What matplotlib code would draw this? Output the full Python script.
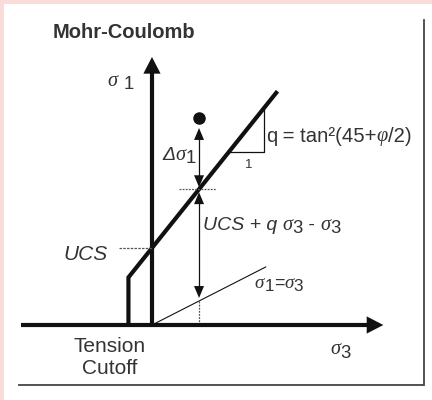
import matplotlib
matplotlib.use('Agg')
import matplotlib.pyplot as plt
from matplotlib.patches import FancyArrowPatch, Rectangle
from matplotlib.transforms import offset_copy

# diagram values (sigma3, sigma1 in arbitrary stress units)
UCS = 77
q = 2.45
T = -12                 # tension cutoff
s3_fail_end = 64        # end of failure line
s3_axis = (-67, 118)    # sigma3 axis extent
s1_axis_top = 268
point = (24, 207)       # stress state above the envelope
s3_equal_end = 58       # end of sigma1 = sigma3 line
tri_s3 = (39, 57)       # slope triangle

INK = '#111111'
TXT = '#333333'
SANS = 'Liberation Sans'
SERIF = 'Liberation Serif'

fig = plt.figure(figsize=(4.32, 4.0), dpi=100, facecolor='#f9dcd9')
fig.patches.append(Rectangle((4 / 432, 0), 428 / 432, 396 / 400, transform=fig.transFigure,
                             facecolor='white', edgecolor='none', zorder=-5))
ax = fig.add_axes([0, 0, 1, 1])
ax.set_xlim(-77.5, 142.8)
ax.set_ylim(-75, 325)
ax.axis('off')
rend = fig.canvas.get_renderer()


def head(tip, frm, size):
    w, l = size
    ax.add_patch(FancyArrowPatch(frm, tip, arrowstyle=f'-|>,head_length={l},head_width={w}',
                                 mutation_scale=10, lw=0, color=INK, shrinkA=0, shrinkB=0))


def rich(x, y, parts, size=14):
    # parts: (text, family, style, dy in points, size factor)
    dx = 0
    for s, fam, sty, dy, f in parts:
        t = ax.text(x, y, s, transform=offset_copy(ax.transData, fig, dx, dy, units='points'),
                    va='center', ha='left', family=fam, style=sty, fontsize=size * f, color=TXT)
        dx += t.get_window_extent(rend).width * 72 / fig.dpi


def sig(sub, gap=''):
    return [('σ' + gap, SERIF, 'italic', 0, 1.05), (sub, SANS, 'normal', -2.5, 0.95)]


# frame (right and bottom)
ax.plot([-67.8, 138.7, 138.7], [-60, -60, 305], color='#444444', lw=1.3, solid_joinstyle='miter')

# axes with arrow heads
ax.plot([s3_axis[0], s3_axis[1] - 4], [0, 0], color=INK, lw=3, solid_capstyle='butt')
head((s3_axis[1], 0), (s3_axis[1] - 10, 0), (0.62, 1.2))
ax.plot([0, 0], [0, s1_axis_top - 8], color=INK, lw=3, solid_capstyle='butt')
head((0, s1_axis_top), (0, s1_axis_top - 20), (0.62, 1.2))

# tension cutoff + failure envelope
s1_T = UCS + q * T
ax.plot([T, T, s3_fail_end], [0, s1_T, UCS + q * s3_fail_end], color=INK, lw=3,
        solid_joinstyle='miter', solid_capstyle='butt')

# sigma1 = sigma3 line
ax.plot([0, s3_equal_end], [0, s3_equal_end], color=INK, lw=0.8)

# UCS dotted
ax.plot([-17, 0], [UCS, UCS], color='#555555', lw=0.9, ls=(0, (2, 1)))

# stress point and arrows
ps3, ps1 = point
s1_env = UCS + q * ps3
ax.plot([ps3], [ps1], 'o', color=INK, ms=8)
top_a, bot_a = ps1 - 10, s1_env + 2
ax.plot([ps3, ps3], [bot_a + 6, top_a - 6], color=INK, lw=0.9)
head((ps3, top_a), (ps3, top_a - 10), (0.36, 0.86))
head((ps3, bot_a), (ps3, bot_a + 10), (0.36, 0.86))
top_b, bot_b = s1_env - 3, ps3 + 3
ax.plot([ps3, ps3], [bot_b + 6, top_b - 6], color=INK, lw=0.9)
head((ps3, top_b), (ps3, top_b - 10), (0.36, 0.86))
head((ps3, bot_b), (ps3, bot_b + 10), (0.36, 0.86))
ax.plot([ps3, ps3], [ps3, 3], color='#555555', lw=0.9, ls=(0, (1.5, 1)))
ax.plot([ps3 - 10, ps3 + 8.5], [s1_env, s1_env], color='#555555', lw=0.9, ls=(0, (1.5, 1)))

# slope triangle
ax.plot([tri_s3[0], tri_s3[1], tri_s3[1]],
        [UCS + q * tri_s3[0], UCS + q * tri_s3[0], UCS + q * tri_s3[1]], color=INK, lw=0.9)

# texts
ax.text(-50.5, 293, 'Mohr-Coulomb', family=SANS, weight='bold', fontsize=14.5, color=TXT,
        ha='left', va='center')
rich(-22.4, 244, sig('1', ' '))
rich(91, -25, sig('3'))
ax.text(-33.7, 70, 'UCS', family=SANS, style='italic', fontsize=15, color=TXT,
        ha='center', va='center')
ax.text(-21.4, -22, 'Tension', family=SANS, fontsize=15, color=TXT, ha='center', va='center')
ax.text(-21.4, -43, 'Cutoff', family=SANS, fontsize=15, color=TXT, ha='center', va='center')
ax.text(49.5, 160, '1', family=SANS, fontsize=9.5, color=TXT, ha='center', va='center')
rich(58, 188, [('q', SANS, 'normal', 0, 1.0), (' = tan²(45+', SANS, 'normal', 0, 1.0),
               ('φ', SERIF, 'italic', 0, 1.0), ('/2)', SANS, 'normal', 0, 1.0)], size=14.6)
rich(5.4, 170, [('Δ', SANS, 'italic', 0, 1.0)] + sig('1'))
rich(26, 100, [('UCS + q ', SANS, 'italic', 0, 1.0)] + sig('3') +
     [(' - ', SANS, 'normal', 0, 1.0)] + sig('3'))
rich(52.5, 42, sig('1') + [('=', SANS, 'normal', 0, 1.0)] + sig('3'), size=13)

fig.savefig('out.png', dpi=100, facecolor=fig.get_facecolor())
